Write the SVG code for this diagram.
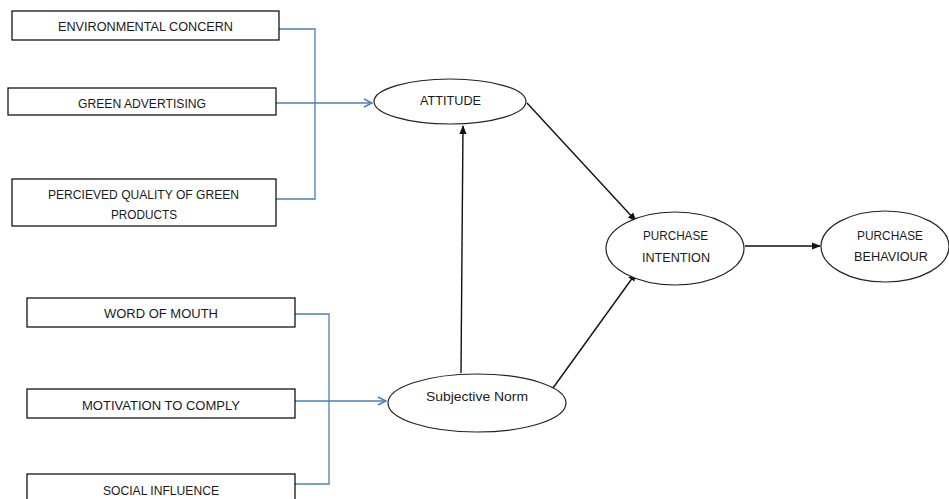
<svg xmlns="http://www.w3.org/2000/svg" width="949" height="499" viewBox="0 0 949 499">
<style>
.box{fill:#fff;stroke:#000;stroke-width:1.2}
.ell{fill:#fff;stroke:#222;stroke-width:1.2}
.t{font-family:"Liberation Sans",Arial,sans-serif;font-size:12.5px;fill:#1a1a1a;text-anchor:middle}
.blue{fill:none;stroke:#4a7ebb;stroke-width:1.3}
.blk{fill:none;stroke:#111;stroke-width:1.4}
</style>
<defs>
<marker id="ab" viewBox="0 0 10 10" refX="9" refY="5" markerWidth="10" markerHeight="10" markerUnits="userSpaceOnUse" orient="auto">
<path d="M1,1 L9,5 L1,9" fill="none" stroke="#4a7ebb" stroke-width="1.4"/>
</marker>
<marker id="ak" viewBox="0 0 10 10" refX="9" refY="5" markerWidth="9" markerHeight="9" markerUnits="userSpaceOnUse" orient="auto">
<path d="M0,1 L10,5 L0,9 Z" fill="#111"/>
</marker>
</defs>
<g id="connectors">
<path class="blue" d="M279,29 H315 V199 H276"/>
<path class="blue" d="M276,103 H372" marker-end="url(#ab)"/>
<path class="blue" d="M295,314 H329 V484 H295"/>
<path class="blue" d="M295,401 H386" marker-end="url(#ab)"/>
<path class="blk" d="M461,373 L463,126" marker-end="url(#ak)"/>
<path class="blk" d="M527,103 L636,221" marker-end="url(#ak)"/>
<path class="blk" d="M553,388 L636,273" marker-end="url(#ak)"/>
<path class="blk" d="M745,246 L820,246" marker-end="url(#ak)"/>
</g>
<g id="environmental-concern">
<rect class="box" x="12" y="11" width="267" height="29"/>
<text class="t" x="145.5" y="31" textLength="175" lengthAdjust="spacingAndGlyphs">ENVIRONMENTAL CONCERN</text>
</g>
<g id="green-advertising">
<rect class="box" x="8" y="88" width="268" height="27"/>
<text class="t" x="142" y="108" textLength="128" lengthAdjust="spacingAndGlyphs">GREEN ADVERTISING</text>
</g>
<g id="perceived-quality">
<rect class="box" x="12" y="179" width="264" height="47"/>
<text class="t" x="143.5" y="199" textLength="191" lengthAdjust="spacingAndGlyphs">PERCIEVED QUALITY OF GREEN</text>
<text class="t" x="144" y="219" textLength="66" lengthAdjust="spacingAndGlyphs">PRODUCTS</text>
</g>
<g id="word-of-mouth">
<rect class="box" x="27" y="298" width="268" height="29"/>
<text class="t" x="161" y="318" textLength="114" lengthAdjust="spacingAndGlyphs">WORD OF MOUTH</text>
</g>
<g id="motivation-to-comply">
<rect class="box" x="27" y="389" width="268" height="29"/>
<text class="t" x="161" y="410" textLength="158" lengthAdjust="spacingAndGlyphs">MOTIVATION TO COMPLY</text>
</g>
<g id="social-influence">
<rect class="box" x="27" y="474" width="268" height="40"/>
<text class="t" x="161" y="495" textLength="116" lengthAdjust="spacingAndGlyphs">SOCIAL INFLUENCE</text>
</g>
<g id="attitude">
<ellipse class="ell" cx="450" cy="101.5" rx="76" ry="22.5"/>
<text class="t" x="450.5" y="105" textLength="61" lengthAdjust="spacingAndGlyphs">ATTITUDE</text>
</g>
<g id="subjective-norm">
<ellipse class="ell" cx="477" cy="403" rx="89" ry="29"/>
<text class="t" x="477" y="401" textLength="102" lengthAdjust="spacingAndGlyphs">Subjective Norm</text>
</g>
<g id="purchase-intention">
<ellipse class="ell" cx="675" cy="248.5" rx="69" ry="36.5"/>
<text class="t" x="675.5" y="240" textLength="65" lengthAdjust="spacingAndGlyphs">PURCHASE</text>
<text class="t" x="676" y="262" textLength="68" lengthAdjust="spacingAndGlyphs">INTENTION</text>
</g>
<g id="purchase-behaviour">
<ellipse class="ell" cx="885" cy="246.5" rx="64" ry="35.5"/>
<text class="t" x="890" y="240" textLength="66" lengthAdjust="spacingAndGlyphs">PURCHASE</text>
<text class="t" x="891" y="261" textLength="74" lengthAdjust="spacingAndGlyphs">BEHAVIOUR</text>
</g>
</svg>
